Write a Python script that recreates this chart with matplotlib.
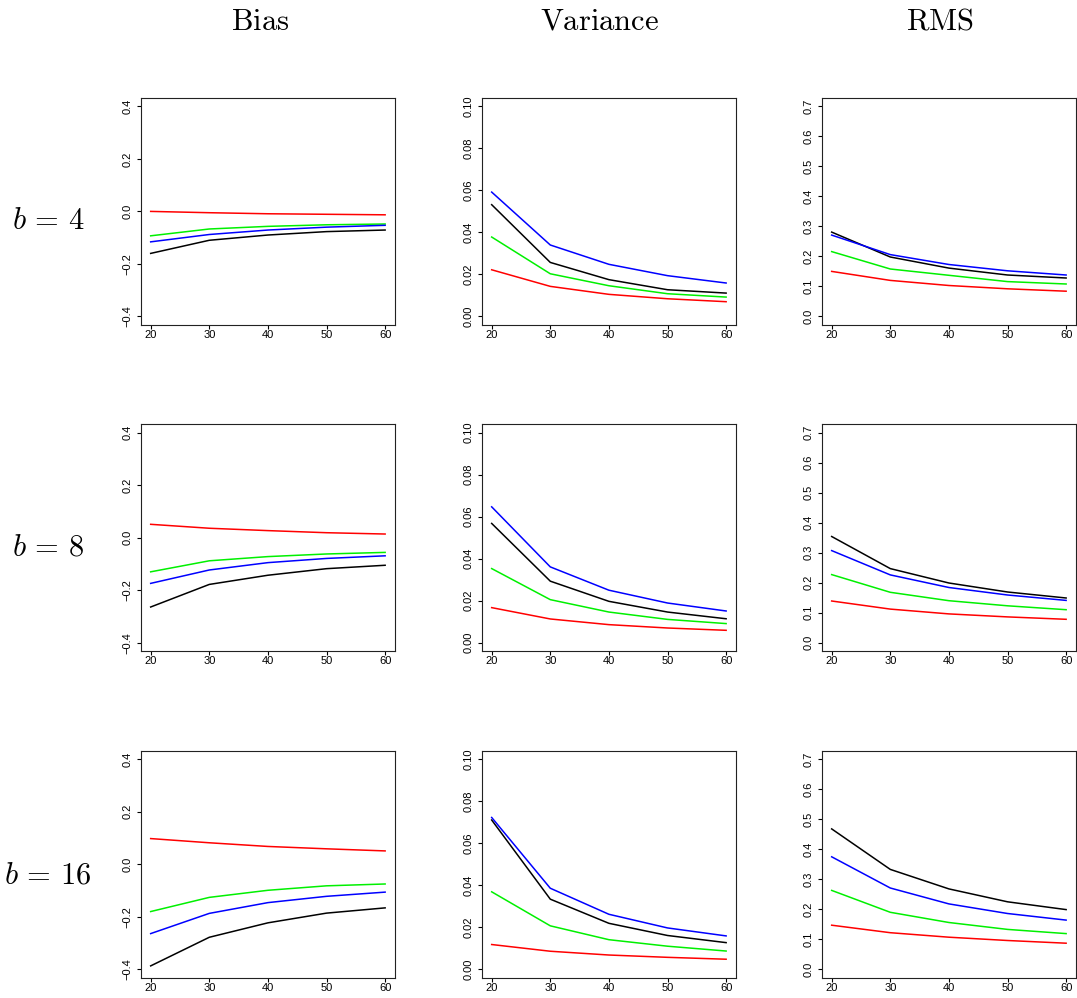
import matplotlib
matplotlib.use("Agg")
import matplotlib.pyplot as plt

# sample sizes on the x axis
n = [20, 30, 40, 50, 60]

b_values = [4, 8, 16]
metrics = ["Bias", "Variance", "RMS"]

# one dict per panel, keyed by line colour
bias_b4 = {
    "black": [-0.160, -0.110, -0.090, -0.077, -0.071],
    "red":   [0.000, -0.005, -0.009, -0.011, -0.013],
    "green": [-0.093, -0.067, -0.057, -0.051, -0.048],
    "blue":  [-0.116, -0.088, -0.071, -0.060, -0.053],
}
var_b4 = {
    "black": [0.0532, 0.0257, 0.0175, 0.0127, 0.0111],
    "red":   [0.0222, 0.0143, 0.0105, 0.0084, 0.0070],
    "green": [0.0378, 0.0203, 0.0146, 0.0108, 0.0092],
    "blue":  [0.0592, 0.0340, 0.0248, 0.0194, 0.0159],
}
rms_b4 = {
    "black": [0.281, 0.198, 0.161, 0.138, 0.128],
    "red":   [0.150, 0.120, 0.103, 0.092, 0.084],
    "green": [0.216, 0.158, 0.137, 0.116, 0.108],
    "blue":  [0.271, 0.206, 0.173, 0.152, 0.138],
}

bias_b8 = {
    "black": [-0.264, -0.178, -0.143, -0.118, -0.105],
    "red":   [0.051, 0.036, 0.027, 0.019, 0.014],
    "green": [-0.130, -0.088, -0.072, -0.062, -0.056],
    "blue":  [-0.174, -0.123, -0.095, -0.079, -0.069],
}
var_b8 = {
    "black": [0.0568, 0.0293, 0.0197, 0.0146, 0.0114],
    "red":   [0.0167, 0.0113, 0.0086, 0.0070, 0.0059],
    "green": [0.0353, 0.0205, 0.0146, 0.0111, 0.0091],
    "blue":  [0.0647, 0.0361, 0.0250, 0.0189, 0.0151],
}
rms_b8 = {
    "black": [0.354, 0.247, 0.199, 0.169, 0.149],
    "red":   [0.139, 0.112, 0.096, 0.086, 0.078],
    "green": [0.227, 0.168, 0.140, 0.123, 0.110],
    "blue":  [0.307, 0.226, 0.184, 0.159, 0.141],
}

bias_b16 = {
    "black": [-0.387, -0.278, -0.223, -0.186, -0.166],
    "red":   [0.098, 0.082, 0.068, 0.059, 0.051],
    "green": [-0.180, -0.126, -0.099, -0.082, -0.075],
    "blue":  [-0.264, -0.187, -0.146, -0.122, -0.106],
}
var_b16 = {
    "black": [0.0711, 0.0334, 0.0219, 0.0161, 0.0127],
    "red":   [0.0118, 0.0086, 0.0068, 0.0057, 0.0048],
    "green": [0.0369, 0.0207, 0.0141, 0.0110, 0.0087],
    "blue":  [0.0723, 0.0386, 0.0262, 0.0197, 0.0159],
}
rms_b16 = {
    "black": [0.468, 0.333, 0.268, 0.225, 0.199],
    "red":   [0.147, 0.122, 0.107, 0.096, 0.087],
    "green": [0.263, 0.190, 0.156, 0.133, 0.119],
    "blue":  [0.375, 0.271, 0.218, 0.186, 0.164],
}

panels = [
    [bias_b4, var_b4, rms_b4],
    [bias_b8, var_b8, rms_b8],
    [bias_b16, var_b16, rms_b16],
]

# y ranges and tick labels per column
y_ranges = [(-0.4, 0.4), (0.0, 0.1), (0.0, 0.7)]
y_ticks = [
    [-0.4, -0.2, 0.0, 0.2, 0.4],
    [0.00, 0.02, 0.04, 0.06, 0.08, 0.10],
    [0.0, 0.1, 0.2, 0.3, 0.4, 0.5, 0.6, 0.7],
]
y_labels = [
    ["\u22120.4", "\u22120.2", "0.0", "0.2", "0.4"],
    ["0.00", "0.02", "0.04", "0.06", "0.08", "0.10"],
    ["0.0", "0.1", "0.2", "0.3", "0.4", "0.5", "0.6", "0.7"],
]
x_ticks = [20, 30, 40, 50, 60]

colors = {"black": "#000000", "red": "#FF0000", "green": "#00F000", "blue": "#0000FF"}

plt.rcParams["mathtext.fontset"] = "cm"
plt.rcParams["font.family"] = ["Liberation Sans", "DejaVu Sans"]

W, H = 1077, 998
fig = plt.figure(figsize=(W / 100, H / 100), dpi=100)

# panel boxes in pixels
col_left = [141.3, 482.3, 822.3]
col_w = 253.2
row_top = [98.0, 424.3, 750.9]
row_h = 226.8

for i in range(3):
    for j in range(3):
        ax = fig.add_axes([col_left[j] / W, 1 - (row_top[i] + row_h) / H,
                           col_w / W, row_h / H])
        data = panels[i][j]
        for key in ["black", "red", "green", "blue"]:
            ax.plot(n, data[key], color=colors[key], lw=1.1)

        # R style 4% padding
        x0, x1 = n[0], n[-1]
        dx = 0.04 * (x1 - x0)
        ax.set_xlim(x0 - dx, x1 + dx)
        y0, y1 = y_ranges[j]
        dy = 0.04 * (y1 - y0)
        ax.set_ylim(y0 - dy, y1 + dy)

        ax.set_xticks(x_ticks)
        ax.set_xticklabels([str(v) for v in x_ticks])
        ax.set_yticks(y_ticks[j])
        ax.set_yticklabels(y_labels[j], rotation=90, va="center")

        ax.tick_params(axis="both", labelsize=8, length=3, width=0.8,
                       direction="out", colors="black")
        ax.tick_params(axis="x", pad=0.5)
        ax.tick_params(axis="y", pad=3.5)
        for sp in ax.spines.values():
            sp.set_linewidth(0.8)
            sp.set_color("#222222")

# column titles
title_x = [260, 600, 940]
for j, m in enumerate(metrics):
    fig.text(title_x[j] / W, 1 - 30 / H, r"$\mathrm{" + m + "}$",
             ha="center", va="baseline", fontsize=22)

# row labels
label_y = [221, 548, 875]
for i, b in enumerate(b_values):
    fig.text(48 / W, 1 - label_y[i] / H, r"$b\,=\," + str(b) + "$",
             ha="center", va="center", fontsize=22)

fig.savefig("out.png", dpi=100)
